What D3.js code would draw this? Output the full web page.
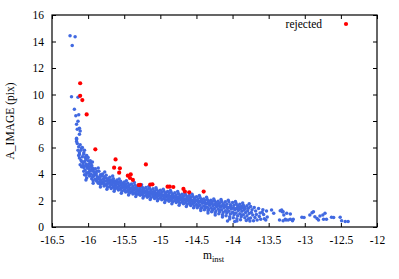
<!DOCTYPE html>
<html>
<head>
<meta charset="utf-8">
<script src="https://cdn.jsdelivr.net/npm/d3@7"></script>
<style>
  body { margin: 0; background: #fff; }
  svg { display: block; font-family: 'Liberation Serif', 'Times New Roman', serif; }
</style>
</head>
<body>
<div id="chart"></div>
<script>
const width = 399;
const height = 279;
const margin = { top: 15, right: 22, bottom: 52, left: 52 };

const xTicks = [-16.5, -16, -15.5, -15, -14.5, -14, -13.5, -13, -12.5, -12];
const xTickLabels = ['-16.5', '-16', '-15.5', '-15', '-14.5', '-14', '-13.5', '-13', '-12.5', '-12'];
const yTicks = [0, 2, 4, 6, 8, 10, 12, 14, 16];

// rejected sources (m_inst, A_IMAGE)
const rejected = [
  [-16.11, 10.85], [-16.11, 9.9], [-16.08, 9.58], [-16.02, 8.5], [-15.9, 5.86],
  [-15.62, 5.1], [-15.64, 4.48], [-15.56, 4.43], [-15.57, 4.1], [-15.45, 3.87],
  [-15.41, 3.97], [-15.42, 3.7], [-15.38, 3.55], [-15.2, 4.72], [-15.3, 3.17],
  [-15.28, 3.18], [-15.14, 3.2], [-15.11, 3.22], [-14.9, 3.04], [-14.87, 3.04],
  [-14.82, 3.02], [-14.68, 2.87], [-14.66, 2.68], [-14.6, 2.62], [-14.4, 2.67]
];

// bright end, sparse
const brightStars = [
  [-16.25, 14.44], [-16.18, 14.36], [-16.22, 13.7], [-16.23, 9.83], [-16.14, 9.79],
  [-16.19, 8.88], [-16.13, 8.48], [-16.17, 8.4], [-16.14, 7.98], [-16.16, 7.75],
  [-16.12, 7.45], [-16.15, 7.37], [-16.11, 7.25], [-16.12, 7.0], [-16.16, 6.7]
];

// main locus
const stars = [
  [-16.16,6.6],[-16.15,6.3],[-16.13,6.05],[-16.14,5.8],[-16.12,5.6],[-16.16,6.45],
  [-16.11,6.2],[-16.09,5.95],[-16.12,5.5],[-16.08,5.3],[-16.10,5.05],[-16.07,4.85],[-16.11,4.7],[-16.09,4.55],[-16.06,5.6],[-16.12,5.2],
  [-16.06,5.5],[-16.04,5.25],[-16.05,4.95],[-16.03,4.75],[-16.06,4.5],[-16.04,4.3],[-16.02,4.1],[-16.05,3.95],[-16.03,5.1],[-16.07,4.65],[-16.01,4.45],
  [-16.0,5.0],[-15.98,4.8],[-16.01,4.6],[-15.99,4.4],[-15.97,4.25],[-16.0,4.05],[-15.98,3.85],[-16.02,3.7],[-15.96,4.55],[-15.99,4.15],[-15.97,3.95],
  [-15.95,4.65],[-15.94,4.45],[-15.93,4.2],[-15.96,4.0],[-15.92,3.85],[-15.95,3.65],[-15.93,3.5],[-15.91,4.1],[-15.94,3.75],[-15.92,4.35],
  [-15.9,4.4],[-15.88,4.2],[-15.89,3.95],[-15.87,3.8],[-15.9,3.6],[-15.88,3.45],[-15.86,3.3],[-15.89,4.05],[-15.87,3.7],
  [-15.85,4.2],[-15.83,3.95],[-15.84,3.75],[-15.82,3.55],[-15.85,3.4],[-15.83,3.2],[-15.81,3.85],[-15.84,3.6],[-15.82,3.3],
  [-15.8,4.0],[-15.78,3.8],[-15.79,3.6],[-15.77,3.45],[-15.8,3.3],[-15.78,3.1],[-15.76,3.7],[-15.79,3.4],
  [-15.75,3.9],[-15.73,3.65],[-15.74,3.5],[-15.72,3.3],[-15.75,3.15],[-15.73,3.0],[-15.71,3.55],[-15.74,3.25],
  [-15.7,3.75],[-15.68,3.55],[-15.69,3.4],[-15.67,3.2],[-15.7,3.05],[-15.68,2.9],[-15.66,3.45],[-15.69,3.15],
  [-15.65,3.65],[-15.63,3.45],[-15.64,3.3],[-15.62,3.15],[-15.65,3.0],[-15.63,2.85],[-15.61,3.35],[-15.64,3.1],
  [-15.6,3.55],[-15.58,3.4],[-15.59,3.25],[-15.57,3.1],[-15.6,2.95],[-15.58,2.8],[-15.56,3.3],[-15.59,3.0],
  [-15.55,3.45],[-15.53,3.3],[-15.54,3.15],[-15.52,3.0],[-15.55,2.85],[-15.53,2.7],[-15.51,3.2],[-15.54,2.95],
  [-15.5,3.4],[-15.48,3.25],[-15.49,3.1],[-15.47,2.95],[-15.5,2.8],[-15.48,2.65],[-15.46,3.05],[-15.49,2.9],
  [-15.45,3.3],[-15.43,3.15],[-15.44,3.0],[-15.42,2.85],[-15.45,2.7],[-15.43,2.55],[-15.41,2.95],[-15.44,2.8],
  [-15.4,3.25],[-15.38,3.1],[-15.39,2.95],[-15.37,2.8],[-15.4,2.65],[-15.38,2.5],[-15.36,2.9],[-15.39,2.75],
  [-15.35,3.15],[-15.33,3.0],[-15.34,2.85],[-15.32,2.7],[-15.35,2.55],[-15.33,2.45],[-15.31,2.8],[-15.34,2.65],
  [-15.3,3.1],[-15.28,2.95],[-15.29,2.8],[-15.27,2.65],[-15.3,2.5],[-15.28,2.4],[-15.26,2.75],[-15.29,2.6],
  [-15.25,3.0],[-15.23,2.88],[-15.24,2.75],[-15.22,2.6],[-15.25,2.45],[-15.23,2.32],[-15.21,2.7],[-15.24,2.55],
  [-15.2,2.98],[-15.18,2.82],[-15.19,2.68],[-15.17,2.55],[-15.2,2.4],[-15.18,2.25],[-15.16,2.62],[-15.19,2.48],
  [-15.15,2.92],[-15.13,2.78],[-15.14,2.62],[-15.12,2.5],[-15.15,2.35],[-15.13,2.2],[-15.11,2.58],[-15.14,2.42],
  [-15.1,2.88],[-15.08,2.72],[-15.09,2.58],[-15.07,2.45],[-15.1,2.3],[-15.08,2.15],[-15.06,2.52],[-15.09,2.38],
  [-15.05,2.82],[-15.03,2.68],[-15.04,2.52],[-15.02,2.4],[-15.05,2.25],[-15.03,2.1],[-15.01,2.48],[-15.04,2.32],
  [-15.0,2.78],[-14.98,2.62],[-14.99,2.48],[-14.97,2.35],[-15.0,2.2],[-14.98,2.05],[-14.96,2.42],[-14.99,2.28],
  [-14.95,2.72],[-14.93,2.58],[-14.94,2.42],[-14.92,2.3],[-14.95,2.15],[-14.93,2.0],[-14.91,2.38],[-14.94,2.22],
  [-14.9,2.68],[-14.88,2.52],[-14.89,2.38],[-14.87,2.25],[-14.9,2.1],[-14.88,1.95],[-14.86,2.32],[-14.89,2.18],
  [-14.85,2.62],[-14.83,2.48],[-14.84,2.32],[-14.82,2.2],[-14.85,2.05],[-14.83,1.9],[-14.81,2.28],[-14.84,2.12],
  [-14.8,2.58],[-14.78,2.42],[-14.79,2.28],[-14.77,2.15],[-14.8,2.0],[-14.78,1.85],[-14.76,2.22],[-14.79,2.08],
  [-14.75,2.52],[-14.73,2.38],[-14.74,2.22],[-14.72,2.1],[-14.75,1.95],[-14.73,1.8],[-14.71,2.18],[-14.74,2.02],
  [-14.7,2.48],[-14.68,2.32],[-14.69,2.18],[-14.67,2.05],[-14.7,1.9],[-14.68,1.75],[-14.66,2.12],[-14.69,1.98],
  [-14.65,2.42],[-14.63,2.28],[-14.64,2.12],[-14.62,2.0],[-14.65,1.85],[-14.63,1.7],[-14.61,2.08],[-14.64,1.92],
  [-14.6,2.38],[-14.58,2.22],[-14.59,2.08],[-14.57,1.95],[-14.6,1.8],[-14.58,1.62],[-14.56,2.02],[-14.59,1.88],
  [-14.55,2.32],[-14.53,2.18],[-14.54,2.02],[-14.52,1.9],[-14.55,1.75],[-14.53,1.58],[-14.51,1.98],[-14.54,1.82],
  [-14.5,2.28],[-14.48,2.12],[-14.49,1.98],[-14.47,1.85],[-14.5,1.7],[-14.48,1.52],[-14.46,1.92],[-14.49,1.45],
  [-14.45,2.22],[-14.43,2.08],[-14.44,1.92],[-14.42,1.8],[-14.45,1.65],[-14.43,1.45],[-14.41,1.88],[-14.44,1.38],
  [-14.4,2.12],[-14.38,2.0],[-14.39,1.85],[-14.37,1.72],[-14.4,1.58],[-14.38,1.4],[-14.36,1.8],[-14.39,1.3],
  [-14.35,2.08],[-14.33,1.95],[-14.34,1.8],[-14.32,1.65],[-14.35,1.5],[-14.33,1.32],[-14.31,1.75],[-14.34,1.22],
  [-14.3,2.02],[-14.28,1.9],[-14.29,1.75],[-14.27,1.6],[-14.3,1.45],[-14.28,1.25],[-14.26,1.68],[-14.29,1.15],
  [-14.25,1.98],[-14.23,1.85],[-14.24,1.7],[-14.22,1.55],[-14.25,1.4],[-14.23,1.2],[-14.21,1.62],[-14.24,1.08],
  [-14.2,1.95],[-14.18,1.8],[-14.19,1.65],[-14.17,1.5],[-14.2,1.35],[-14.18,1.15],[-14.16,1.58],[-14.19,1.0],
  [-14.15,1.92],[-14.13,1.75],[-14.14,1.6],[-14.12,1.45],[-14.15,1.3],[-14.13,1.1],[-14.11,1.52],[-14.14,0.92],
  [-14.1,1.9],[-14.08,1.72],[-14.09,1.55],[-14.07,1.4],[-14.1,1.22],[-14.08,1.05],[-14.06,1.48],[-14.09,0.85],[-14.07,0.45],
  [-14.05,1.88],[-14.03,1.68],[-14.04,1.5],[-14.02,1.35],[-14.05,1.18],[-14.03,0.98],[-14.01,1.42],[-14.04,0.78],
  [-14.0,1.85],[-13.98,1.65],[-13.99,1.45],[-13.97,1.3],[-14.0,1.12],[-13.98,0.92],[-13.96,1.38],[-13.99,0.7],[-13.97,0.42],
  [-13.95,1.78],[-13.93,1.6],[-13.94,1.4],[-13.92,1.25],[-13.95,1.05],[-13.93,0.85],[-13.91,1.5],[-13.94,0.62],
  [-13.9,1.72],[-13.88,1.55],[-13.89,1.35],[-13.87,1.18],[-13.9,1.0],[-13.88,0.78],[-13.86,1.45],[-13.89,0.55],
  [-13.85,1.65],[-13.83,1.48],[-13.84,1.3],[-13.82,1.1],[-13.85,0.92],[-13.83,0.7],[-13.81,0.5],
  [-13.8,1.6],[-13.78,1.42],[-13.79,1.22],[-13.77,1.02],[-13.8,0.85],[-13.78,0.62],[-13.76,0.45],
  [-13.75,1.55],[-13.73,1.3],[-13.74,1.1],[-13.72,0.9],[-13.75,0.68],[-13.71,0.48],
  [-13.7,1.48],[-13.68,1.2],[-13.67,0.95],[-13.69,0.72],[-13.66,0.52],
  [-13.64,1.4],[-13.62,1.05],[-13.63,0.8],[-13.61,0.58],
  [-13.58,1.3],[-13.57,0.95],[-13.56,0.62],[-13.59,1.12],
  [-13.53,1.2],[-13.52,0.75],[-13.54,0.52]
];

// in-between and edge stars of the locus
const locusFill = [
  [-16.08,6.0],[-16.05,5.8],[-16.02,5.4],[-16.0,5.25],[-15.97,5.0],[-15.94,4.9],[-16.1,5.8],
  [-16.13,5.4],[-16.09,4.95],[-16.04,4.6],[-16.0,4.7],[-15.98,4.55],[-15.95,4.3],[-16.06,4.2],[-16.03,3.9],
  [-15.96,4.85],[-15.86,4.45],[-15.77,4.15],[-15.66,3.85],[-15.57,3.62],[-15.47,3.5],[-15.36,3.35],
  [-15.26,3.18],[-15.16,3.05],[-15.06,2.97],[-14.96,2.85],[-14.86,2.75],[-14.76,2.68],[-14.66,2.55],
  [-14.56,2.48],[-14.46,2.38],[-14.36,2.25],[-14.26,2.12],[-14.16,2.08],[-14.06,2.02],[-13.96,1.92],
  [-13.86,1.82],[-13.77,1.75],
  [-16.03,3.55],[-15.93,3.3],[-15.83,3.02],[-15.74,2.85],[-15.64,2.7],[-15.54,2.55],[-15.44,2.42],
  [-15.34,2.3],[-15.24,2.18],[-15.14,2.08],[-15.04,1.98],[-14.94,1.85],[-14.84,1.75],[-14.74,1.65],
  [-14.64,1.55],[-14.54,1.45],[-14.44,1.25],[-14.34,1.05],[-14.24,0.9],[-14.14,0.75],[-14.04,0.6],[-13.94,0.45],
  [-15.975,4.32],[-15.925,3.92],[-15.875,3.62],[-15.825,3.48],[-15.775,3.25],[-15.725,3.4],[-15.675,3.3],
  [-15.625,3.0],[-15.575,2.88],[-15.525,3.08],[-15.475,2.72],[-15.425,2.62],[-15.375,2.58],[-15.325,2.92],
  [-15.275,2.52],[-15.225,2.8],[-15.175,2.35],[-15.125,2.68],[-15.075,2.22],[-15.025,2.58],[-14.975,2.12],
  [-14.925,2.48],[-14.875,2.02],[-14.825,2.38],[-14.775,1.92],[-14.725,2.28],[-14.675,1.82],[-14.625,2.18],
  [-14.575,1.7],[-14.525,2.08],[-14.475,1.6],[-14.425,1.98],[-14.375,1.5],[-14.325,1.88],[-14.275,1.35],
  [-14.225,1.78],[-14.175,1.25],[-14.125,1.68],[-14.075,1.15],[-14.025,1.58],[-13.975,1.02],[-13.925,1.5],
  [-13.875,0.9],[-13.825,1.38]
];

// faint end, sparse
const faintStars = [
  [-13.46,1.28],[-13.43,1.03],[-13.34,1.23],[-13.31,1.16],[-13.29,0.91],[-13.35,0.53],
  [-13.26,0.53],[-13.2,0.58],[-13.17,0.48],[-13.32,1.28],[-13.3,1.16],[-13.25,1.03],
  [-13.2,0.98],[-13.27,0.58],[-13.3,0.48],[-13.23,0.53],[-13.16,0.58],[-13.04,0.73],
  [-13.01,0.71],[-12.93,0.91],[-12.9,1.08],[-12.88,1.16],[-12.86,0.78],[-12.83,0.65],
  [-12.81,0.53],[-12.79,0.83],[-12.75,0.91],[-12.72,1.03],[-12.74,0.58],[-12.7,0.58],
  [-12.63,0.73],[-12.6,0.71],[-12.51,0.73],[-12.49,0.48],[-12.44,0.42],[-12.4,0.42]
];

const accepted = [...brightStars, ...stars, ...locusFill, ...faintStars];

const x = d3.scaleLinear().domain([-16.5, -12]).range([margin.left, width - margin.right]);
const y = d3.scaleLinear().domain([0, 16]).range([height - margin.bottom, margin.top]);

const svg = d3.create('svg')
  .attr('width', width)
  .attr('height', height)
  .attr('viewBox', [0, 0, width, height]);

// points
svg.append('g')
  .attr('fill', '#4169e1')
  .selectAll('circle')
  .data(accepted)
  .join('circle')
  .attr('cx', (d) => x(d[0]))
  .attr('cy', (d) => y(d[1]))
  .attr('r', 1.75);

svg.append('g')
  .attr('fill', '#ff0000')
  .selectAll('circle')
  .data(rejected)
  .join('circle')
  .attr('cx', (d) => x(d[0]))
  .attr('cy', (d) => y(d[1]))
  .attr('r', 2.1);

// axes, gnuplot style: inward ticks on all four sides
const fmtX = (d) => xTickLabels[xTicks.indexOf(d)];
const bottom = height - margin.bottom;
const right = width - margin.right;

svg.append('g')
  .attr('transform', `translate(0,${bottom})`)
  .call(d3.axisBottom(x).tickValues(xTicks).tickFormat(fmtX).tickSizeInner(-4).tickSizeOuter(0).tickPadding(9))
  .call((g) => g.select('.domain').remove());

svg.append('g')
  .attr('transform', `translate(0,${margin.top})`)
  .call(d3.axisTop(x).tickValues(xTicks).tickFormat('').tickSizeInner(-4).tickSizeOuter(0))
  .call((g) => g.select('.domain').remove());

svg.append('g')
  .attr('transform', `translate(${margin.left},0)`)
  .call(d3.axisLeft(y).tickValues(yTicks).tickFormat((d) => String(d)).tickSizeInner(-4).tickSizeOuter(0).tickPadding(8))
  .call((g) => g.select('.domain').remove());

svg.append('g')
  .attr('transform', `translate(${right},0)`)
  .call(d3.axisRight(y).tickValues(yTicks).tickFormat('').tickSizeInner(-4).tickSizeOuter(0))
  .call((g) => g.select('.domain').remove());

svg.selectAll('.tick text')
  .attr('font-family', "'Liberation Serif', serif")
  .attr('font-size', 11.5)
  .attr('fill', '#000');
svg.selectAll('.tick line').attr('stroke', '#000');

svg.append('rect')
  .attr('x', margin.left)
  .attr('y', margin.top)
  .attr('width', right - margin.left)
  .attr('height', bottom - margin.top)
  .attr('fill', 'none')
  .attr('stroke', '#000')
  .attr('stroke-width', 1.2);

// legend
svg.append('text')
  .attr('x', 322)
  .attr('y', 28)
  .attr('text-anchor', 'end')
  .attr('font-size', 11.5)
  .text('rejected');
svg.append('circle')
  .attr('cx', 346)
  .attr('cy', 24)
  .attr('r', 2.1)
  .attr('fill', '#ff0000');

// axis titles
const xl = svg.append('text')
  .attr('x', 203)
  .attr('y', 259)
  .attr('font-size', 11.5);
xl.append('tspan').text('m');
xl.append('tspan').attr('dy', 3).attr('font-size', 8.5).text('inst');

svg.append('text')
  .attr('transform', `translate(14,${(margin.top + bottom) / 2}) rotate(-90)`)
  .attr('text-anchor', 'middle')
  .attr('font-size', 11.5)
  .text('A_IMAGE (pix)');

document.querySelector('#chart').appendChild(svg.node());
</script>
</body>
</html>
